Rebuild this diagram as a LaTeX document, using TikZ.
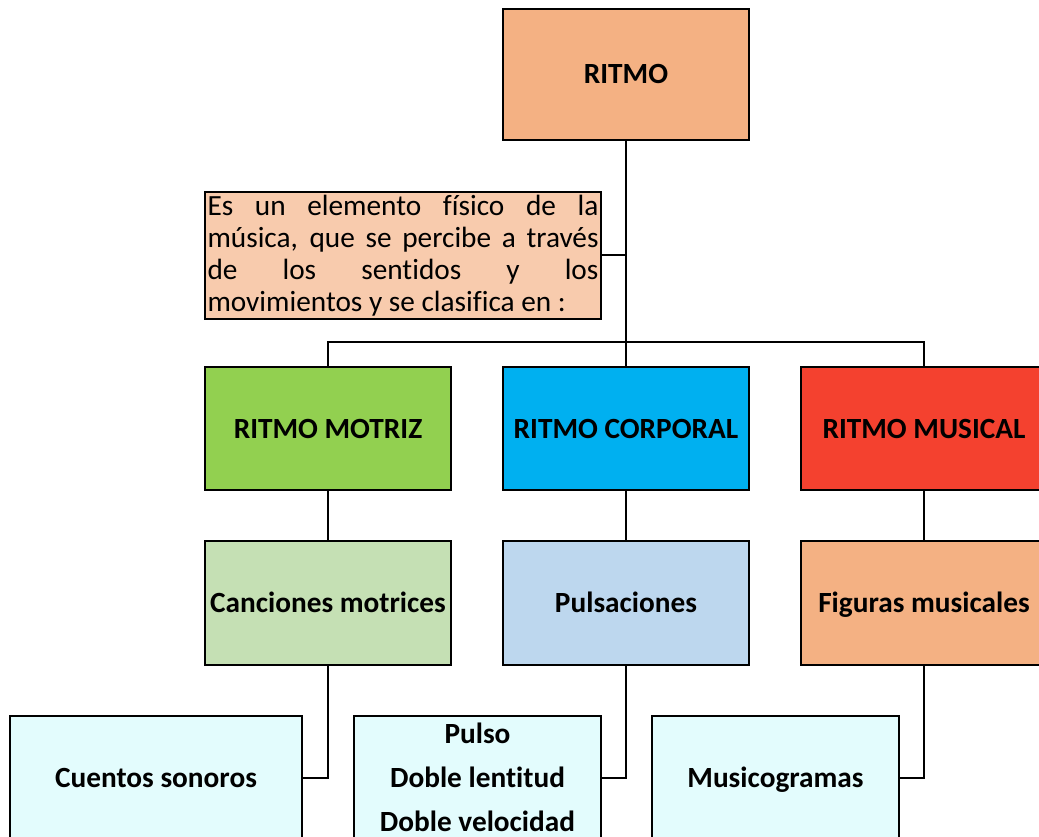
\documentclass[tikz,border=0pt]{standalone}
\usepackage{fontspec}
\setmainfont{Carlito}[Ligatures=NoCommon]
\definecolor{cOrange}{HTML}{F4B183}
\definecolor{cPeach}{HTML}{F8CBAD}
\definecolor{cGreen}{HTML}{92D050}
\definecolor{cBlue}{HTML}{00B0F0}
\definecolor{cRed}{HTML}{F4412F}
\definecolor{cLGreen}{HTML}{C5E0B4}
\definecolor{cLBlue}{HTML}{BDD7EE}
\definecolor{cCyan}{HTML}{E3FCFD}
\begin{document}
\begin{tikzpicture}[x=1pt,y=-1pt,
  box/.style={draw=black,line width=2pt,minimum width=246pt,inner sep=2pt,
    font=\fontsize{29.3}{36}\selectfont\bfseries,align=center,
    text height=19pt,text depth=0pt},
  conn/.style={draw=black,line width=2pt}]
\useasboundingbox (0,0) rectangle (1039,837);
\clip (0,0) rectangle (1039,837);
\node[box,fill=cOrange,minimum height=131pt] (ritmo) at (626,74.5) {RITMO};
\node[draw=black,line width=2pt,fill=cPeach,minimum width=396pt,minimum height=123pt,
  text width=391pt,inner sep=2.5pt,align=justify,
  font=\fontsize{29.3}{32}\selectfont] (desc) at (403,255.5)
  {\hyphenpenalty=10000 Es un elemento físico de la\linebreak música, que se percibe a través\linebreak de los sentidos y los\linebreak movimientos y se clasifica en :};
\node[box,fill=cGreen,minimum height=123pt] (motriz) at (328,428.5) {RITMO MOTRIZ};
\node[box,fill=cBlue,minimum height=123pt] (corporal) at (626,428.5) {RITMO CORPORAL};
\node[box,fill=cRed,minimum height=123pt] (musical) at (924,428.5) {RITMO MUSICAL};
\node[box,fill=cLGreen,minimum height=124pt] (canciones) at (328,603) {Canciones motrices};
\node[box,fill=cLBlue,minimum height=124pt] (pulsaciones) at (626,603) {Pulsaciones};
\node[box,fill=cOrange,minimum height=124pt] (figuras) at (924,603) {Figuras musicales};
\node[box,fill=cCyan,minimum width=292pt,minimum height=124pt] (cuentos) at (156,778) {Cuentos sonoros};
\node[box,fill=cCyan,minimum width=247pt,minimum height=124pt,
  font=\fontsize{29.3}{44}\selectfont\bfseries,text height=107pt] (pulso) at (477.5,778) {Pulso\\Doble lentitud\\Doble velocidad};
\node[box,fill=cCyan,minimum width=247pt,minimum height=124pt] (musico) at (775.5,778) {Musicogramas};
\coordinate (bar) at (626,342);
\draw[conn] (ritmo.south) -- (corporal.north);
\draw[conn] (desc.east) -- (desc.east -| ritmo.south);
\draw[conn] (motriz.north) |- (bar) -| (musical.north);
\draw[conn] (motriz.south) -- (canciones.north);
\draw[conn] (corporal.south) -- (pulsaciones.north);
\draw[conn] (musical.south) -- (figuras.north);
\draw[conn] (canciones.south) |- (cuentos.east);
\draw[conn] (pulsaciones.south) |- (pulso.east);
\draw[conn] (figuras.south) |- (musico.east);
\end{tikzpicture}
\end{document}
